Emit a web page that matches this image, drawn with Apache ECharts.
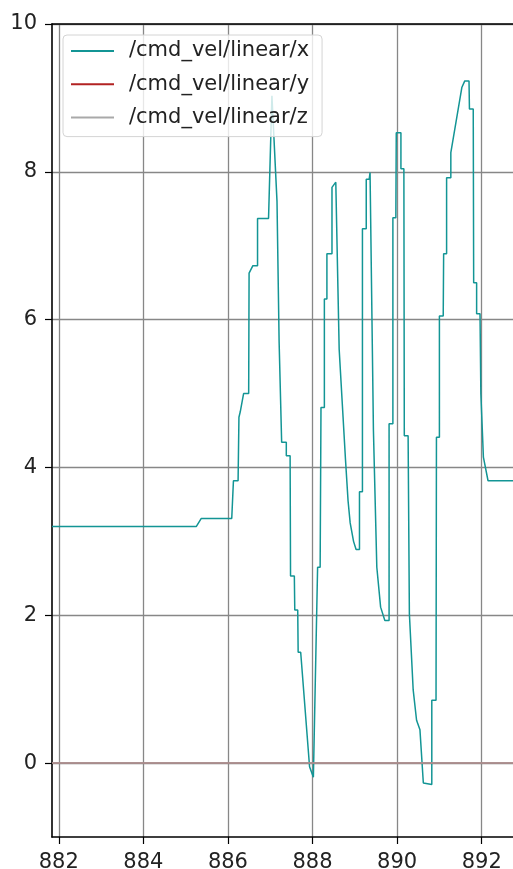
<!DOCTYPE html>
<html>
<head>
<meta charset="utf-8">
<script src="https://cdn.jsdelivr.net/npm/echarts@6/dist/echarts.min.js"></script>
<style>
html,body{margin:0;padding:0;background:#fff;}
#chart{width:513px;height:869px;}
</style>
</head>
<body>
<div id="chart"></div>
<script>
// ---- data ----
const seriesNames = ['/cmd_vel/linear/x', '/cmd_vel/linear/y', '/cmd_vel/linear/z'];
const timeX = [
  881.84, 885.25, 885.37, 886.09, 886.13, 886.24, 886.26, 886.29, 886.37, 886.49,
  886.50, 886.59, 886.70, 886.70, 886.96, 887.04, 887.16, 887.21, 887.27, 887.38,
  887.38, 887.47, 887.48, 887.57, 887.58, 887.65, 887.66, 887.72, 887.93, 888.02,
  888.12, 888.18, 888.20, 888.28, 888.28, 888.34, 888.34, 888.46, 888.46, 888.55,
  888.60, 888.63, 888.70, 888.78, 888.84, 888.89, 888.97, 889.03, 889.11, 889.11,
  889.18, 889.18, 889.27, 889.27, 889.34, 889.36, 889.38, 889.44, 889.52, 889.61,
  889.71, 889.81, 889.81, 889.90, 889.90, 889.97, 889.98, 890.09, 890.09, 890.16,
  890.17, 890.26, 890.29, 890.38, 890.46, 890.54, 890.62, 890.82, 890.82, 890.92,
  890.93, 891.00, 891.00, 891.09, 891.10, 891.17, 891.17, 891.27, 891.27, 891.53,
  891.60, 891.70, 891.71, 891.80, 891.81, 891.88, 891.88, 891.96, 891.98, 892.04,
  892.15, 892.74
];
const linearX = [
  3.20, 3.20, 3.31, 3.31, 3.82, 3.82, 4.68, 4.75, 5.00, 5.00,
  6.63, 6.73, 6.73, 7.37, 7.37, 9.03, 7.60, 5.70, 4.34, 4.34,
  4.16, 4.16, 2.53, 2.53, 2.07, 2.07, 1.50, 1.50, -0.05, -0.19,
  2.65, 2.65, 4.81, 4.81, 6.28, 6.28, 6.89, 6.89, 7.79, 7.86,
  6.44, 5.60, 4.90, 4.10, 3.55, 3.25, 3.00, 2.89, 2.89, 3.67,
  3.67, 7.23, 7.23, 7.90, 7.90, 7.99, 7.99, 4.50, 2.65, 2.11,
  1.93, 1.93, 4.59, 4.59, 7.38, 7.38, 8.53, 8.53, 8.04, 8.04,
  4.43, 4.43, 2.02, 0.99, 0.58, 0.45, -0.27, -0.29, 0.85, 0.85,
  4.41, 4.41, 6.05, 6.05, 6.89, 6.89, 7.92, 7.92, 8.26, 9.14,
  9.23, 9.23, 8.85, 8.85, 6.50, 6.50, 6.08, 6.08, 5.00, 4.14,
  3.82, 3.82
];
const timeYZ = [881.84, 892.74];
const linearY = [0, 0];
const linearZ = [0, 0];
const xTicks = [882, 884, 886, 888, 890, 892];
const yTicks = [0, 2, 4, 6, 8, 10];

const pair = (t, v) => t.map((x, i) => [x, v[i]]);
const FONT = 'DejaVu Sans';
const FS = 21;
const gridColor = '#878787';

const chart = echarts.init(document.getElementById('chart'), null, {renderer: 'canvas'});
chart.setOption({
  animation: false,
  backgroundColor: '#ffffff',
  grid: {left: 52, top: 24, right: 0, bottom: 32, containLabel: false, outerBoundsMode: 'none'},
  legend: {
    orient: 'vertical',
    left: 63, top: 35,
    padding: [4, 13, 7, 8],
    icon: 'rect',
    itemWidth: 43, itemHeight: 2,
    itemGap: 9.3,
    backgroundColor: 'rgba(255,255,255,0.8)',
    borderColor: '#d4d4d4', borderWidth: 1, borderRadius: 4,
    textStyle: {fontFamily: FONT, fontSize: FS, color: '#222', lineHeight: 24, padding: [0, 0, 0, 10]},
    data: seriesNames
  },
  xAxis: [{
    type: 'value', min: 881.84, max: 892.74, position: 'bottom',
    axisLine: {show: true, onZero: false, lineStyle: {color: '#000', width: 1.6}},
    axisTick: {show: true, inside: false, length: 7, lineStyle: {color: '#000', width: 1.2}, customValues: xTicks},
    axisLabel: {show: true, margin: 15, fontFamily: FONT, fontSize: FS, color: '#222', customValues: xTicks,
      formatter: v => String(Math.round(v))},
    splitLine: {show: true, lineStyle: {color: gridColor, width: 1.3}}
  }, {
    type: 'value', min: 881.84, max: 892.74, position: 'top',
    axisLine: {show: true, onZero: false, lineStyle: {color: '#000', width: 1.6}},
    axisTick: {show: false}, axisLabel: {show: false}, splitLine: {show: false}
  }],
  yAxis: [{
    type: 'value', min: -1, max: 10, position: 'left',
    axisLine: {show: true, onZero: false, lineStyle: {color: '#000', width: 1.6}},
    axisTick: {show: true, inside: false, length: 7, lineStyle: {color: '#000', width: 1.2}, customValues: yTicks},
    axisLabel: {show: true, margin: 15, fontFamily: FONT, fontSize: FS, color: '#222', customValues: yTicks,
      formatter: v => String(Math.round(v))},
    splitLine: {show: true, lineStyle: {color: gridColor, width: 1.3}}
  }],
  series: [{
    name: seriesNames[0], type: 'line', data: pair(timeX, linearX),
    showSymbol: false, symbol: 'none', z: 3,
    lineStyle: {color: '#139595', width: 1.5}, itemStyle: {color: '#139595'}
  }, {
    name: seriesNames[1], type: 'line', data: pair(timeYZ, linearY),
    showSymbol: false, symbol: 'none', z: 4,
    lineStyle: {color: '#b22222', width: 1.5}, itemStyle: {color: '#b22222'}
  }, {
    name: seriesNames[2], type: 'line', data: pair(timeYZ, linearZ),
    showSymbol: false, symbol: 'none', z: 5,
    lineStyle: {color: '#a9a9a9', width: 1.5}, itemStyle: {color: '#a9a9a9'}
  }]
});
</script>
</body>
</html>
